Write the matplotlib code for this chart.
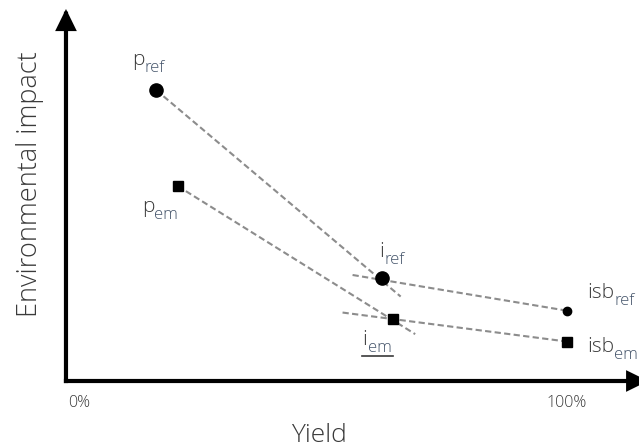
"""
Yield vs environmental impact sketch: reference / emerging practice trends,
intensification points and sustainable-intensification boundaries.
"""

import matplotlib
matplotlib.use("Agg")
import matplotlib.pyplot as plt
from matplotlib.lines import Line2D

plt.rcParams["font.family"] = ["Open Sans", "DejaVu Sans"]

# ── Data (yield in %, impact in arbitrary units, 0..100 axis) ────────────────

point_names = ["p", "p", "i", "i", "isb", "isb"]
point_subs = ["ref", "em", "ref", "em", "ref", "em"]
point_yield = [18.0, 22.3, 63.0, 65.2, 100.0, 100.0]
point_impact = [78.2, 52.4, 27.6, 16.7, 18.9, 10.6]
point_marker = ["o", "s", "o", "s", "o", "s"]
point_msize = [9.5, 6.5, 9.5, 6.5, 6.0, 6.5]

# dashed trend segments: (yield0, impact0, yield1, impact1)
seg_yield_start = [18.0, 22.3, 57.2, 55.2]
seg_impact_start = [78.2, 52.4, 28.5, 18.4]
seg_yield_end = [66.8, 69.7, 100.0, 100.0]
seg_impact_end = [22.7, 12.6, 18.9, 10.6]

x_tick_vals = [0, 100]
x_tick_labels = ["0%", "100%"]

# label offsets in pixels (left edge / baseline relative to the point)
label_dx = [-24, -36, -2, -30, 20, 20]
label_dy = [25, -26, 21, -26, 13, -10]

TEXT = "#3a3a3a"
SUB = "#44546A"
DASH = "#8c8c8c"

fig = plt.figure(figsize=(6.39, 4.48), dpi=100)
ax = fig.add_axes([0, 0, 1, 1])
ax.set_axis_off()
ax.set_xlim(-13.17, 114.37)
ax.set_ylim(-18.01, 102.42)

# axes with arrow heads
arrow = dict(arrowstyle="-|>,head_length=0.55,head_width=0.27",
             color="black", lw=3, mutation_scale=20,
             shrinkA=0, shrinkB=0, joinstyle="miter", capstyle="projecting")
ax.annotate("", xy=(0, 100), xytext=(0, 0), arrowprops=arrow,
            annotation_clip=False)
ax.annotate("", xy=(116.2, 0), xytext=(0, 0), arrowprops=arrow,
            annotation_clip=False)

# dashed trend lines
for x0, y0, x1, y1 in zip(seg_yield_start, seg_impact_start,
                          seg_yield_end, seg_impact_end):
    ax.plot([x0, x1], [y0, y1], color=DASH, lw=1.5,
            linestyle=(0, (3, 1.6)), zorder=2)

# points and labels
for i in range(len(point_names)):
    ax.plot(point_yield[i], point_impact[i], marker=point_marker[i],
            markersize=point_msize[i], color="black", linestyle="none",
            zorder=3)
    main = ax.annotate(point_names[i], xy=(point_yield[i], point_impact[i]),
                       xytext=(label_dx[i], label_dy[i]),
                       textcoords="offset pixels", ha="left", va="baseline",
                       fontsize=15, color=TEXT, fontweight="light")
    ax.annotate(point_subs[i], xy=(1, 0), xycoords=main,
                xytext=(0, -2), textcoords="offset pixels",
                ha="left", va="baseline", fontsize=12, color=SUB,
                fontweight="light")

# underline under i_em
ax.add_line(Line2D([59.0, 65.3], [6.7, 6.7], color=TEXT, lw=1.2))

# tick labels under the x axis
for v, lab in zip(x_tick_vals, x_tick_labels):
    ax.annotate(lab, xy=(v, 0), xytext=(2 if v == 0 else 0, -22),
                textcoords="offset pixels",
                ha="left" if v == 0 else "center", va="center",
                fontsize=11.5, color=TEXT, fontweight="light")

fig.text(319 / 639, 1 - 435 / 448, "Yield", ha="center", va="center",
         fontsize=19, color=TEXT, fontweight="light")
fig.text(30 / 639, 1 - 184 / 448, "Environmental impact", rotation=90,
         ha="center", va="center", fontsize=19.5, color=TEXT,
         fontweight="light")

fig.savefig("out.png", dpi=100)
